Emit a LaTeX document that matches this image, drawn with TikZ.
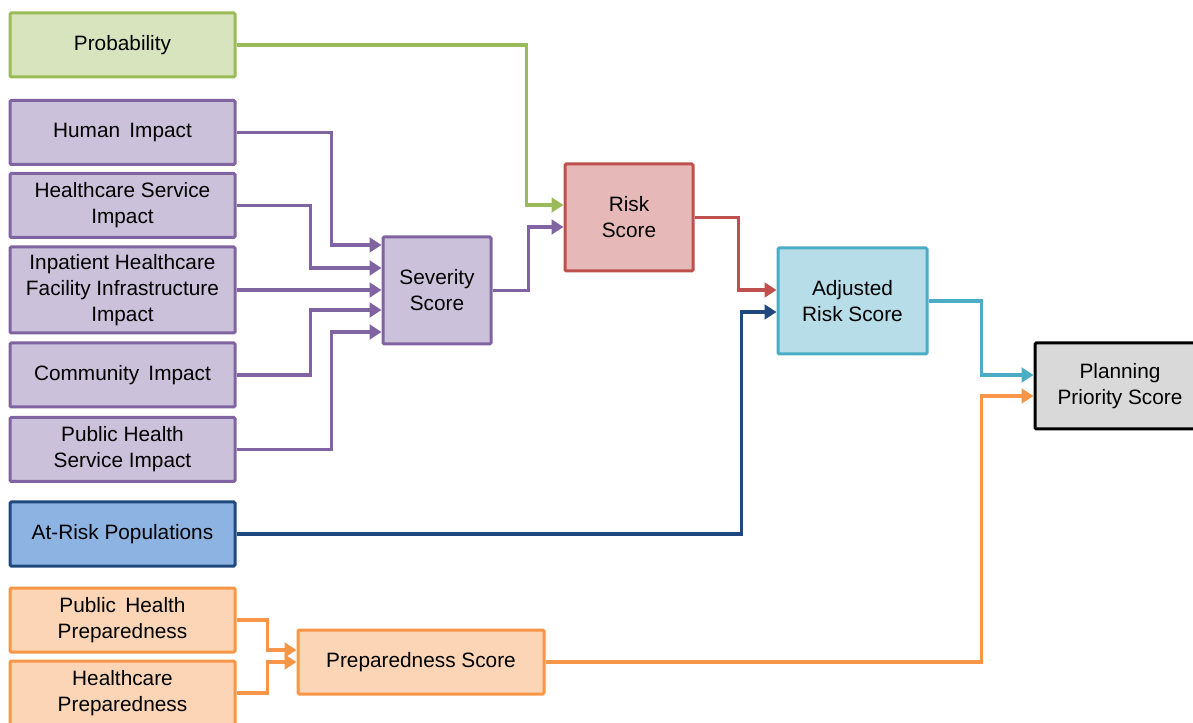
\documentclass[tikz,border=0pt]{standalone}
\usepackage{fontspec}
\setmainfont{Liberation Sans}
\usetikzlibrary{arrows.meta}
\definecolor{grnline}{HTML}{9BBB59}
\definecolor{grnfill}{HTML}{D7E4BD}
\definecolor{purline}{HTML}{8064A2}
\definecolor{purfill}{HTML}{CCC1DA}
\definecolor{redline}{HTML}{C0504D}
\definecolor{redfill}{HTML}{E6B9B8}
\definecolor{aqualine}{HTML}{4BACC6}
\definecolor{aquafill}{HTML}{B7DEE8}
\definecolor{navyline}{HTML}{1F497D}
\definecolor{navyfill}{HTML}{8DB3E2}
\definecolor{orgline}{HTML}{F79646}
\definecolor{orgfill}{HTML}{FBD5B5}
\definecolor{greyfill}{HTML}{D9D9D9}
\tikzset{
  box/.style={rectangle, line width=2.25pt, rounded corners=1pt, align=center,
    inner sep=1pt, font=\fontsize{15.6}{19.5}\selectfont},
  inbox/.style={box, minimum width=168.75pt, minimum height=48pt},
  link/.style={line width=2.9pt, arrows={-Triangle[width=11pt,length=9pt]}}
}
\begin{document}
\begin{tikzpicture}[x=0.75pt,y=-0.75pt]
  \useasboundingbox (0,0) rectangle (1193,723);
  \draw
    (122.5,45) node[inbox, draw=grnline, fill=grnfill] (prob){Probability}
    (122.5,132.5) node[inbox, draw=purline, fill=purfill] (human){Human\, Impact}
    (122.5,205.5) node[inbox, draw=purline, fill=purfill] (hcserv){Healthcare Service\\Impact}
    (122.5,290) node[inbox, draw=purline, fill=purfill, minimum height=64.5pt] (inpat){Inpatient Healthcare\\Facility Infrastructure\\Impact}
    (122.5,375) node[inbox, draw=purline, fill=purfill] (comm){Community\, Impact}
    (122.5,449.5) node[inbox, draw=purline, fill=purfill] (phserv){Public Health\\Service Impact}
    (122.5,534) node[inbox, draw=navyline, fill=navyfill] (atrisk){At-Risk Populations}
    (122.5,620) node[inbox, draw=orgline, fill=orgfill] (phprep){Public\, Health\\Preparedness}
    (122.5,693) node[inbox, draw=orgline, fill=orgfill] (hcprep){Healthcare\\Preparedness}
    (437,290.5) node[box, draw=purline, fill=purfill, minimum width=81pt, minimum height=80.25pt] (sev){Severity\\Score}
    (629,217.5) node[box, draw=redline, fill=redfill, minimum width=96pt, minimum height=80.25pt] (risk){Risk\\Score}
    (852.5,301) node[box, draw=aqualine, fill=aquafill, minimum width=111.75pt, minimum height=79.5pt] (adj){Adjusted\\Risk Score}
    (1120,386) node[box, draw=black, fill=greyfill, minimum width=127.5pt, minimum height=64.5pt] (plan){Planning\\Priority Score}
    (421,662) node[box, draw=orgline, fill=orgfill, minimum width=184.5pt, minimum height=48pt] (prep){Preparedness Score};
  \draw[link, grnline] (prob.east) -- ++(290,0) |- (risk.west |- 0,205);
  \draw[link, purline] (human.east) -- ++(95,0) |- (sev.west |- 0,245);
  \draw[link, purline] (hcserv.east) -- ++(74,0) |- (sev.west |- 0,268);
  \draw[link, purline] (inpat.east) -- (sev.west |- inpat.east);
  \draw[link, purline] (comm.east) -- ++(74,0) |- (sev.west |- 0,310);
  \draw[link, purline] (phserv.east) -- ++(95,0) |- (sev.west |- 0,332);
  \draw[link, purline] (sev.east) -- ++(36,0) |- (risk.west |- 0,227);
  \draw[link, redline] (risk.east) -- ++(44,0) |- (adj.west |- 0,290);
  \draw[link, navyline] (atrisk.east) -- ++(505,0) |- (adj.west |- 0,312);
  \draw[link, aqualine] (adj.east) -- ++(53,0) |- (plan.west |- 0,375);
  \draw[link, orgline] (prep.east) -- ++(436,0) |- (plan.west |- 0,396);
  \draw[link, orgline] (phprep.east) -- ++(31,0) |- (prep.west |- 0,650);
  \draw[link, orgline] (hcprep.east) -- ++(31,0) |- (prep.west |- 0,662);
\end{tikzpicture}
\end{document}
